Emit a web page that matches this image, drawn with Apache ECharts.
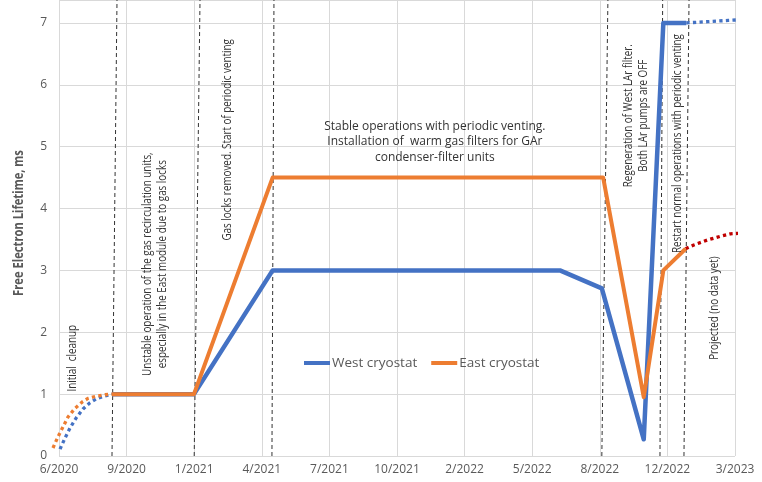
<!DOCTYPE html>
<html><head><meta charset="utf-8">
<script src="https://cdn.jsdelivr.net/npm/echarts@6/dist/echarts.min.js"></script>
<style>html,body{margin:0;padding:0;background:#fff}#c{width:762px;height:482px}</style>
</head><body><div id="c"></div>
<script>
// x values are days since mid-June 2020; axis ticks every 100 days
const tickLabels = ['6/2020','9/2020','1/2021','4/2021','7/2021','10/2021','2/2022','5/2022','8/2022','12/2022','3/2023'];
const westCleanup = [[1.5,0.11],[8.9,0.29],[16.2,0.45],[25.1,0.61],[35.5,0.76],[45.8,0.86],[56.1,0.93],[68,0.97],[78.4,1.0]];
const eastCleanup = [[-8.9,0.13],[-1.5,0.31],[5.9,0.47],[13.3,0.63],[23.6,0.77],[34,0.87],[42.8,0.93],[56.1,0.97],[68,0.99],[78.4,1.0]];
const westSolid = [[78.4,1.0],[199.7,1.0],[316,3.0],[439,3.0],[561,3.0],[681,3.0],[741,3.0],[803,2.71],[865,0.27],[894,7.0],[928,7.0]];
const eastSolid = [[78.4,1.0],[199.7,1.0],[316,4.5],[439,4.5],[561,4.5],[681,4.5],[741,4.5],[805,4.5],[865,0.95],[894,3.0],[927,3.35]];
const westProjected = [[928,7.0],[960,7.02],[990,7.04],[1007,7.05]];
const eastProjected = [[927,3.35],[939,3.41],[959,3.49],[978,3.55],[993,3.59],[1007,3.60]];
const eventBottom = [78.4,200,315,803,889,924.5];
const eventTop = [85.8,208.6,318,812,893,932];
const annotTexts = [
  'Initial  cleanup',
  'Unstable operation of the gas recirculation units,\nespecially in the East module due to gas locks',
  'Gas locks removed. Start of periodic venting',
  'Stable operations with periodic venting.\nInstallation of  warm gas filters for GAr\ncondenser-filter units',
  'Regeneration of West LAr filter.\nBoth LAr pumps are OFF',
  'Restart normal operations with periodic venting',
  'Projected (no data yet)'
];
const annotAnchors = [[20.7,1.58],[142,3.1],[250,5.11],[556,5.08],[853.6,5.5],[915.7,5.05],[970.4,2.39]];
const annotVertical = [true,true,true,false,true,true,true];
const yTitle = 'Free Electron Lifetime, ms';

const yMax = 7.37;
const xMin = 0, xMax = 1000, xPad = 80;
const BLUE = '#4472C4', ORANGE = '#ED7D31', RED = '#C00000';
const FONT = "'Open Sans', 'Noto Sans', sans-serif";
const GL = 59, GR = 27;
// helper grid sharing the same scale but reaching further left (for the curve that starts before 6/2020)
const GL2 = GL - xPad * (762 - GL - GR) / (xMax - xMin);

const chart = echarts.init(document.getElementById('c'));
const series = [];
eventBottom.forEach((b, i) => {
  series.push({
    name: 'ev' + i, type: 'line', silent: true, showSymbol: false, symbol: 'none', z: 1,
    data: [[b, 0], [eventTop[i], yMax]],
    lineStyle: { color: '#333', width: 1, type: [4, 3] }, clip: false
  });
});
series.push(
  { name: 'wc', type: 'line', data: westCleanup, symbol: 'none', xAxisIndex: 1, yAxisIndex: 1, z: 3,
    lineStyle: { color: BLUE, width: 3.3, type: 'dotted', join: 'round' } },
  { name: 'ec', type: 'line', data: eastCleanup, symbol: 'none', xAxisIndex: 1, yAxisIndex: 1, z: 3,
    lineStyle: { color: ORANGE, width: 3.3, type: 'dotted', join: 'round' } },
  { name: 'West cryostat', type: 'line', data: westSolid, symbol: 'none', clip: false, z: 4,
    itemStyle: { color: BLUE }, lineStyle: { color: BLUE, width: 4.5, join: 'round' } },
  { name: 'East cryostat', type: 'line', data: eastSolid, symbol: 'none', clip: false, z: 5,
    itemStyle: { color: ORANGE }, lineStyle: { color: ORANGE, width: 4, join: 'round' } },
  { name: 'wp', type: 'line', data: westProjected, symbol: 'none', clip: false, z: 3,
    lineStyle: { color: BLUE, width: 3.3, type: 'dotted' } },
  { name: 'ep', type: 'line', data: eastProjected, symbol: 'none', clip: false, z: 3,
    lineStyle: { color: RED, width: 3.3, type: 'dotted' } }
);

chart.setOption({
  animation: false,
  backgroundColor: '#fff',
  grid: [
    { left: GL, right: GR, top: -1, bottom: 26 },
    { left: GL2, right: GR, top: -1, bottom: 26 }
  ],
  legend: {
    data: ['West cryostat', 'East cryostat'],
    left: 304, top: 356, padding: 0, itemGap: 14,
    icon: 'rect', itemWidth: 26, itemHeight: 4,
    textStyle: { fontFamily: FONT, fontSize: 13.5, color: '#595959', padding: [0, 0, 0, -3] }
  },
  xAxis: [{
    type: 'value', min: xMin, max: xMax, interval: 100,
    axisLine: { show: false }, axisTick: { show: false },
    splitLine: { show: true, lineStyle: { color: '#D9D9D9', width: 1 } },
    axisLabel: { margin: 8, color: '#595959', fontFamily: FONT, fontSize: 12,
      formatter: v => tickLabels[Math.round(v / 100)] || '' }
  }, {
    gridIndex: 1, type: 'value', min: xMin - xPad, max: xMax, show: false
  }],
  yAxis: [{
    type: 'value', min: 0, max: yMax, interval: 1,
    axisLine: { show: false }, axisTick: { show: false },
    splitLine: { show: true, lineStyle: { color: '#D9D9D9', width: 1 } },
    axisLabel: { margin: 12, color: '#595959', fontFamily: FONT, fontSize: 12, showMaxLabel: false,
      formatter: v => (Math.abs(v - Math.round(v)) < 1e-6 ? String(Math.round(v)) : '') }
  }, {
    gridIndex: 1, type: 'value', min: 0, max: yMax, show: false, splitLine: { show: false }
  }],
  series
});

const graphics = annotTexts.map((t, i) => {
  const p = chart.convertToPixel({ gridIndex: 0 }, annotAnchors[i]);
  const vert = annotVertical[i];
  return {
    type: 'text', x: p[0], y: p[1], rotation: vert ? Math.PI / 2 : 0,
    scaleX: vert ? 0.82 : 1, z: 10,
    style: { text: t, x: 0, y: 0, align: 'center', verticalAlign: 'middle',
      font: '12px ' + FONT, fill: '#333', lineHeight: vert ? 15 : 15.5 }
  };
});
graphics.push({
  type: 'text', x: 19, y: 223, rotation: Math.PI / 2, scaleX: 0.8, z: 10,
  style: { text: yTitle, x: 0, y: 0, align: 'center', verticalAlign: 'middle',
    font: 'bold 14px ' + FONT, fill: '#595959' }
});
chart.setOption({ graphic: graphics });
</script>
</body></html>
